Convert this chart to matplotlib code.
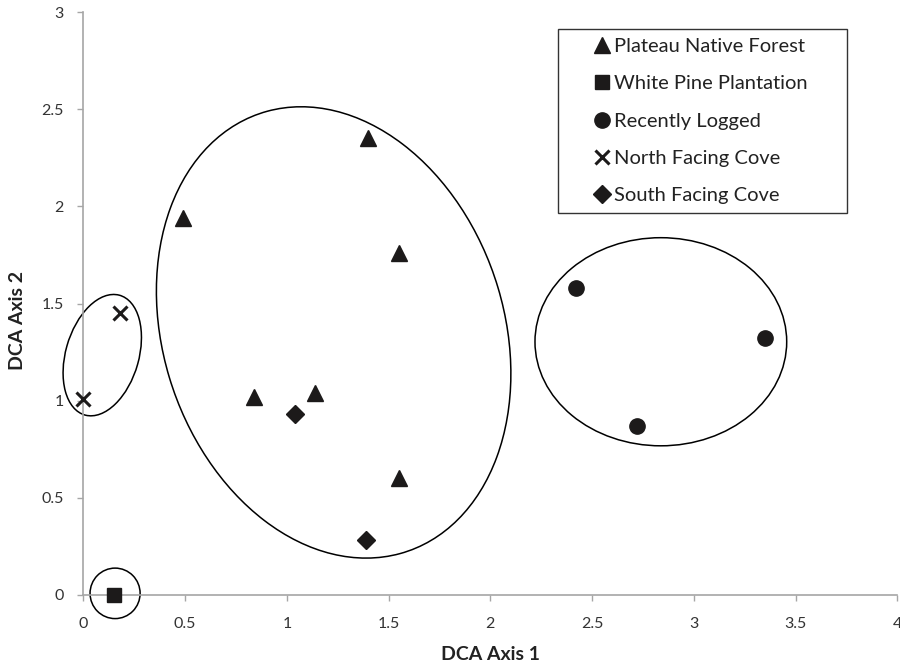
import matplotlib
matplotlib.use('Agg')
from matplotlib import pyplot as plt
from matplotlib.patches import Ellipse

plt.rcParams['font.family'] = ['Lato', 'DejaVu Sans']

# DCA scores per site type
plateau_x = [0.49, 1.40, 1.55, 0.84, 1.14, 1.55]
plateau_y = [1.94, 2.35, 1.76, 1.02, 1.04, 0.60]
pine_x = [0.15]
pine_y = [0.00]
logged_x = [2.42, 3.35, 2.72]
logged_y = [1.58, 1.32, 0.87]
north_x = [0.00, 0.18]
north_y = [1.01, 1.45]
south_x = [1.04, 1.39]
south_y = [0.93, 0.28]

# hand-drawn group outlines: (cx, cy, width, height, angle)
groups = [
    (0.156, 0.007, 0.246, 0.26, 0),
    (0.093, 1.234, 0.64, 0.36, 75),
    (1.23, 1.351, 2.37, 1.68, 106),
    (2.838, 1.303, 1.237, 1.072, 0),
]

ink = '#1c1a1a'
grey = '#a6a6a6'

fig = plt.figure(figsize=(9, 6.65), dpi=100)
ax = fig.add_axes([0.0926, 0.1057, 0.9044, 0.8758])

kw = dict(ls='none', color=ink, clip_on=False, zorder=3)
ax.plot(plateau_x, plateau_y, marker='^', ms=11, label='Plateau Native Forest', **kw)
ax.plot(pine_x, pine_y, marker='s', ms=10.5, label='White Pine Plantation', **kw)
ax.plot(logged_x, logged_y, marker='o', ms=11, label='Recently Logged', **kw)
ax.plot(north_x, north_y, marker='x', ms=10, mew=2.2, label='North Facing Cove', **kw)
ax.plot(south_x, south_y, marker='D', ms=8.7, label='South Facing Cove', **kw)

for cx, cy, w, h, a in groups:
    ax.add_patch(Ellipse((cx, cy), w, h, angle=a, fill=False, ec='black', lw=1.1, clip_on=False))

ax.set_xlim(0, 4)
ax.set_ylim(0, 3)
ax.set_xticks([0, 0.5, 1, 1.5, 2, 2.5, 3, 3.5, 4])
ax.set_xticklabels(['0', '0.5', '1', '1.5', '2', '2.5', '3', '3.5', '4'])
ax.set_yticks([0, 0.5, 1, 1.5, 2, 2.5, 3])
ax.set_yticklabels(['0', '0.5', '1', '1.5', '2', '2.5', '3'])

for s in ['top', 'right']:
    ax.spines[s].set_visible(False)
for s in ['left', 'bottom']:
    ax.spines[s].set_color(grey)
    ax.spines[s].set_linewidth(1.2)
ax.tick_params(direction='out', length=4, width=1, color=grey, labelsize=11.5,
               labelcolor='#333333')
ax.tick_params(axis='x', pad=12)
ax.tick_params(axis='y', pad=10)

ax.set_xlabel('DCA Axis 1', fontsize=14, fontweight='bold', color='#222222')
ax.set_ylabel('DCA Axis 2', fontsize=14, fontweight='bold', color='#222222')
ax.xaxis.set_label_coords(0.5, -0.088)
ax.yaxis.set_label_coords(-0.071, 0.47)

leg = ax.legend(loc='upper left', bbox_to_anchor=(557.7 / 900, 1 - 29 / 665 - 0.01, 289.3 / 900, 0.01),
                bbox_transform=fig.transFigure, mode='expand', borderaxespad=0,
                numpoints=1, handlelength=3.5, handletextpad=-1.15, borderpad=0.45,
                labelspacing=1.0, fontsize=14.5, frameon=True, fancybox=False)
leg.get_frame().set_edgecolor('black')
leg.get_frame().set_linewidth(1.0)
for t in leg.get_texts():
    t.set_color('#222222')

fig.savefig('out.png', dpi=100)
